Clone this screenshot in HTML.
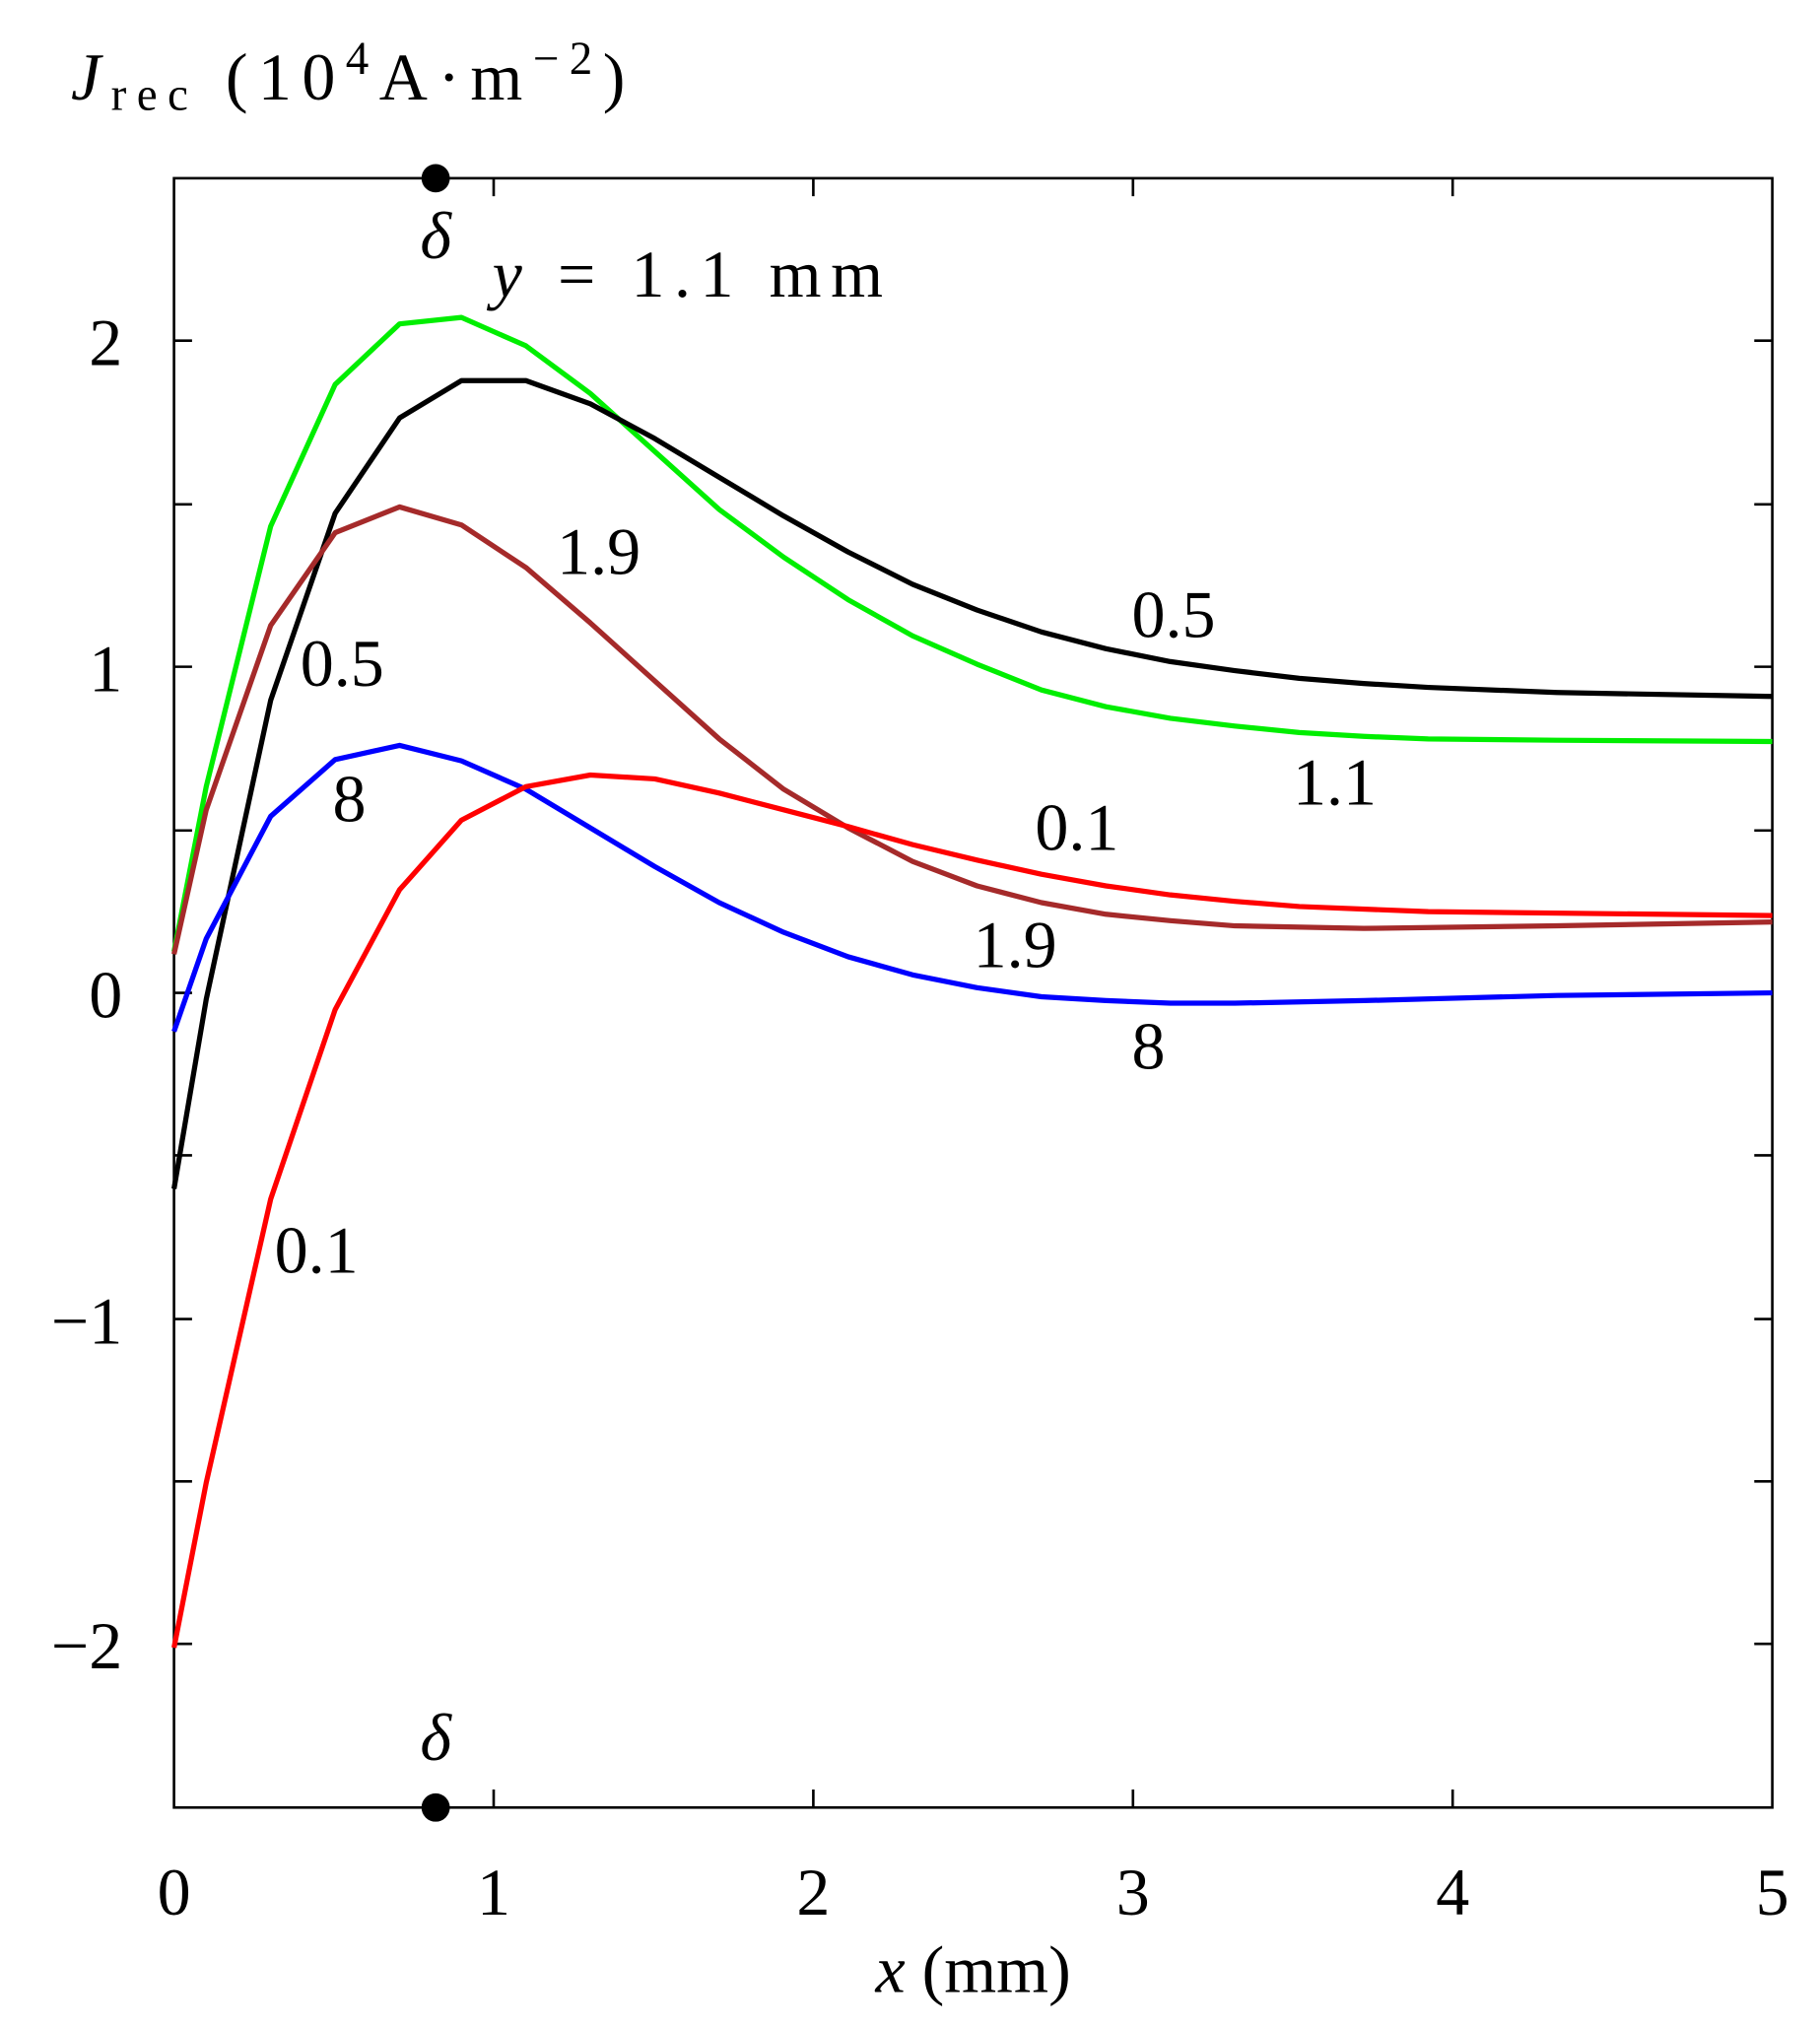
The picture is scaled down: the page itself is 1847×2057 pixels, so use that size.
<!DOCTYPE html>
<html><head><meta charset="utf-8"><style>html,body{margin:0;padding:0;background:#fff}svg{display:block}</style></head>
<body>
<svg xmlns="http://www.w3.org/2000/svg" width="1847" height="2057" viewBox="0 0 1412 1572" font-family="'Liberation Serif', serif" font-size="52">
<rect width="1412" height="1572" fill="#fff"/>
<g stroke="#000" stroke-width="2" fill="none">
<rect x="135" y="138" width="1240" height="1264"/>
<path d="M383 138v14M631 138v14M879 138v14M1127 138v14M383 1402v-14M631 1402v-14M879 1402v-14M1127 1402v-14
M135 264h14M135 391h14M135 517h14M135 644h14M135 770h14M135 896h14M135 1023h14M135 1149h14M135 1275h14
M1375 264h-14M1375 391h-14M1375 517h-14M1375 644h-14M1375 770h-14M1375 896h-14M1375 1023h-14M1375 1149h-14M1375 1275h-14"/>
</g>
<g fill="none" stroke-width="4" stroke-linejoin="round">
<polyline stroke="#00ee00" points="135,738 160,610 210,408 260,298 310,251 358,246 408,268 458,305 508,350 558,395 608,432 658,465 708,493 758,515 808,535 858,548 908,557 958,563 1008,568 1058,571 1108,573 1208,574 1375,575"/>
<polyline stroke="#000" points="135,922 160,775 210,543 260,398 310,324 358,295 408,295 458,313 508,340 558,370 608,400 658,428 708,453 758,473 808,490 858,503 908,513 958,520 1008,526 1058,530 1108,533 1208,537 1375,540"/>
<polyline stroke="#a52a2a" points="135,740 160,628 210,485 260,413 310,393 358,407 408,440 458,483 508,528 558,573 608,612 658,642 708,668 758,687 808,700 858,709 908,714 958,718 1058,720 1208,718 1375,715"/>
<polyline stroke="#0000ff" points="135,800 160,728 210,633 260,589 310,578 358,590 408,612 458,642 508,672 558,700 608,723 658,742 708,756 758,766 808,773 858,776 908,778 958,778 1058,776 1208,772 1375,770"/>
<polyline stroke="#ff0000" points="135,1278 160,1150 210,930 260,783 310,690 358,636 408,610 458,601 508,604 558,615 608,628 658,641 708,655 758,667 808,678 858,687 908,694 958,699 1008,703 1108,707 1375,710"/>
</g>
<circle cx="338" cy="138" r="11"/><circle cx="338" cy="1402" r="11"/>
<g text-anchor="middle">
<text x="135" y="1485">0</text><text x="383" y="1485">1</text><text x="631" y="1485">2</text><text x="879" y="1485">3</text><text x="1127" y="1485">4</text><text x="1375" y="1485">5</text>
<text x="755" y="1545"><tspan font-style="italic">x</tspan>  (mm)</text>
<text x="338" y="200" font-style="italic">δ</text><text x="338" y="1365" font-style="italic">δ</text>
</g>
<g text-anchor="end">
<text x="95" y="283">2</text><text x="95" y="536">1</text><text x="95" y="789">0</text><text x="95" y="1042">−1</text><text x="95" y="1294">−2</text>
</g>
<text x="55" y="77" textLength="430" lengthAdjust="spacing"><tspan font-style="italic">J</tspan><tspan font-size="36" dy="8">rec</tspan><tspan dy="-8">  (10</tspan><tspan font-size="36" dy="-20">4</tspan><tspan dy="20">A·m</tspan><tspan font-size="36" dy="-20">−2</tspan><tspan dy="20">)</tspan></text>
<text x="382" y="230" textLength="303" lengthAdjust="spacing"><tspan font-style="italic">y</tspan> = 1.1 mm</text>
<text x="432" y="445">1.9</text>
<text x="233" y="532">0.5</text>
<text x="258" y="637">8</text>
<text x="213" y="987">0.1</text>
<text x="878" y="494">0.5</text>
<text x="1003" y="624">1.1</text>
<text x="803" y="659">0.1</text>
<text x="755" y="750">1.9</text>
<text x="878" y="829">8</text>
</svg>
</body></html>
